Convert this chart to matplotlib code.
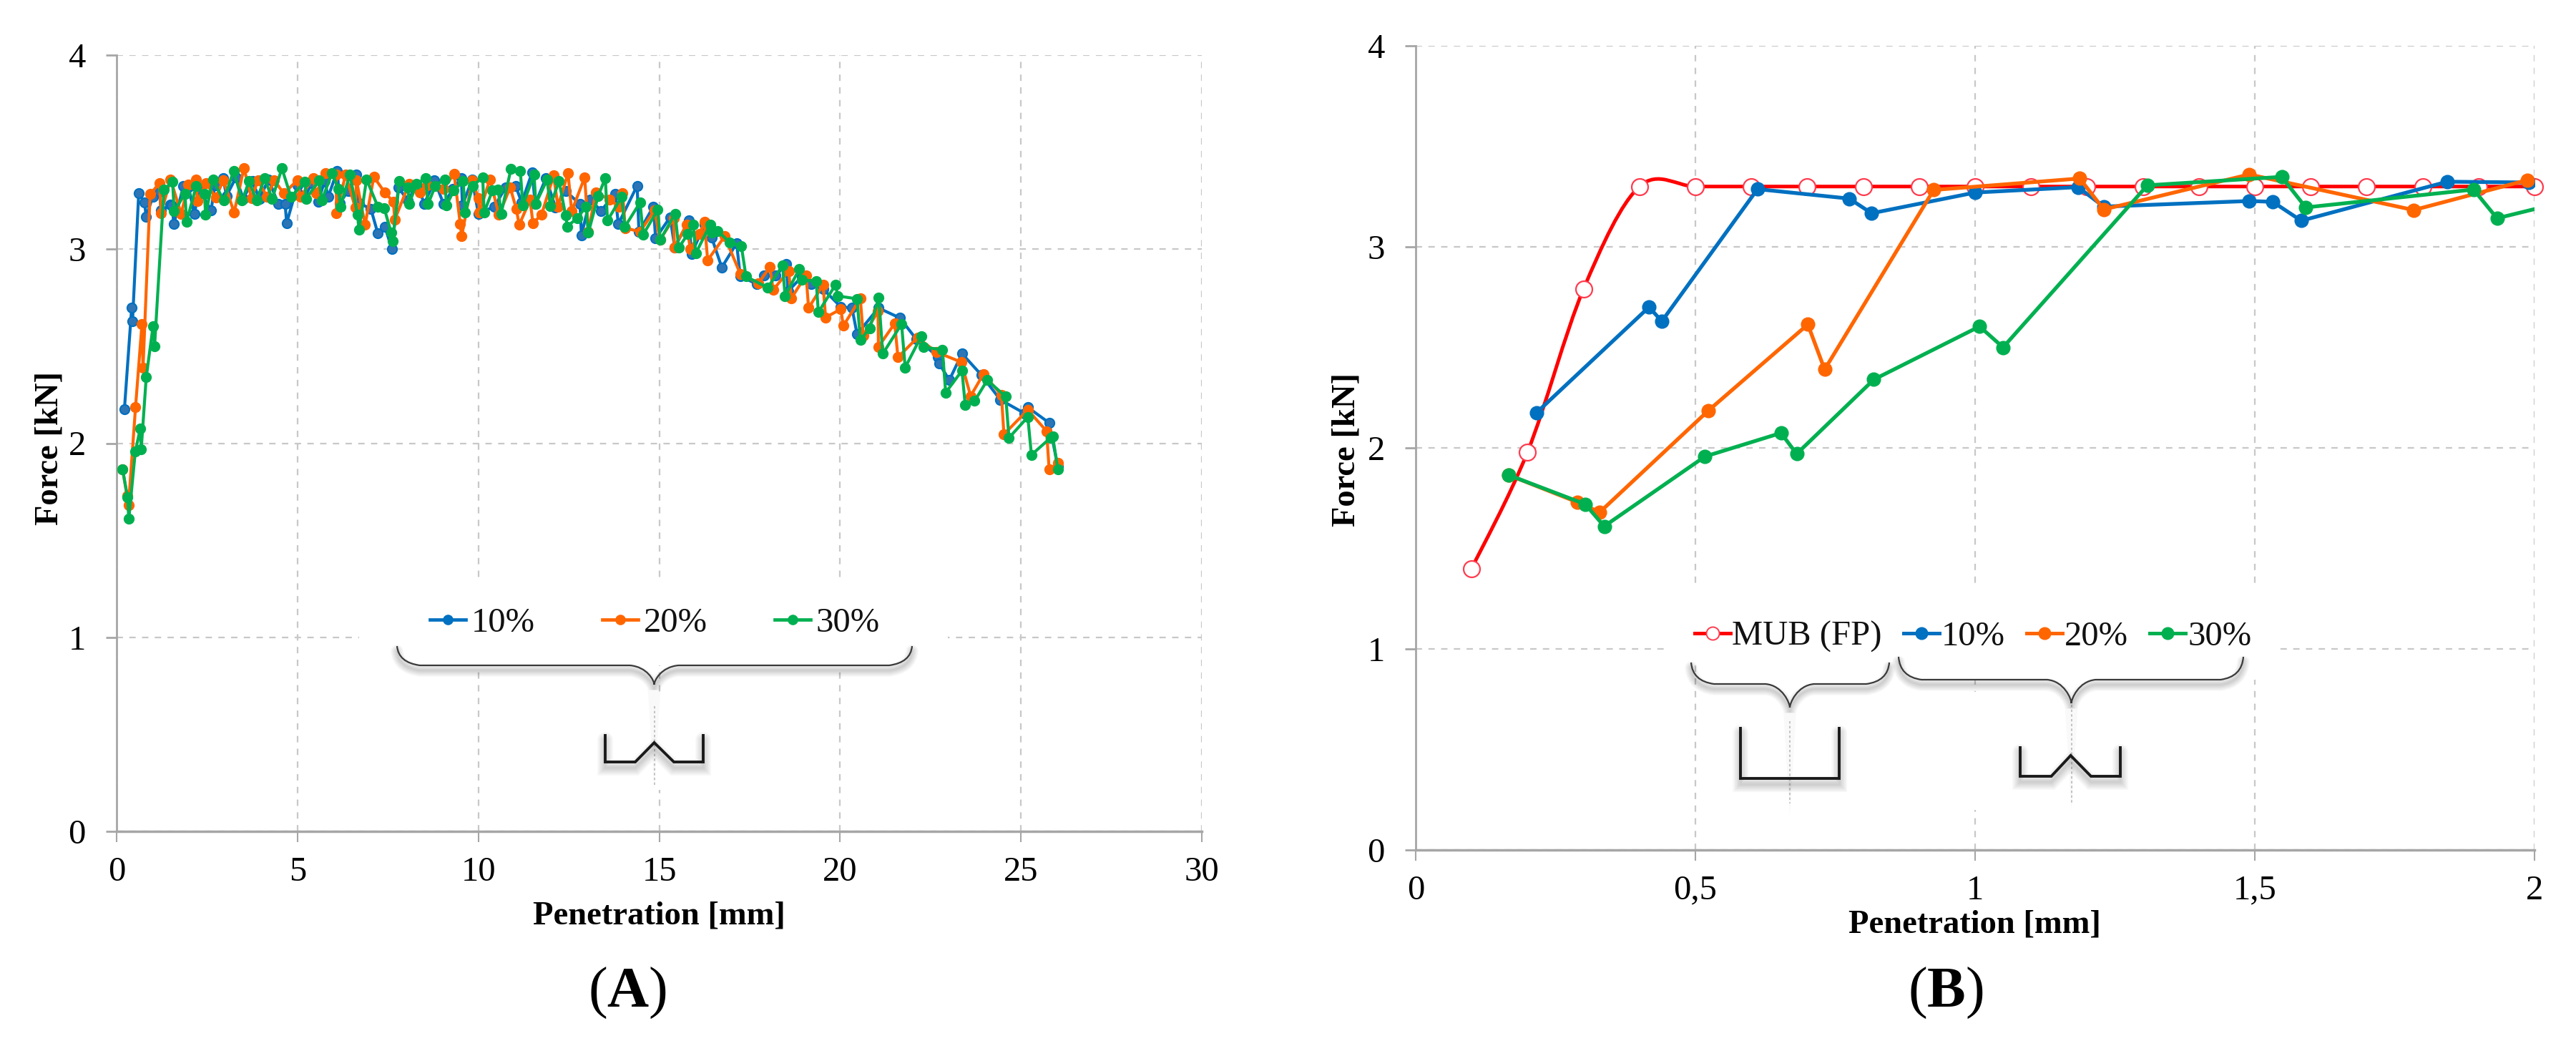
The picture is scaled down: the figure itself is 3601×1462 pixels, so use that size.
# -*- coding: utf-8 -*-
import matplotlib
matplotlib.use('Agg')
import matplotlib.pyplot as plt
from matplotlib.lines import Line2D
from matplotlib.patches import PathPatch, Rectangle
from matplotlib.path import Path

plt.rcParams['font.family'] = ['Liberation Serif', 'DejaVu Serif']
plt.rcParams['mathtext.fontset'] = 'custom'
plt.rcParams['mathtext.rm'] = 'Liberation Serif'
plt.rcParams['mathtext.bf'] = 'Liberation Serif:bold'

col_blue = '#0070C0'; col_orange = '#FF6600'
col_green = '#00B050'; col_red = '#FF0000'
col_grid = '#C8C8C8'; col_axis = '#A6A6A6'

#%% data, same tests in both panels (B is the zoom of the first 2 mm)

blue_x = [0.216, 0.417, 0.44, 0.611, 0.775, 0.815, 1.0, 1.184, 1.23, 1.49, 1.532, 1.583, 1.844, 1.99,
          2.15, 2.28, 2.61, 2.72, 2.94, 3.04, 3.3, 3.5, 3.75, 3.95, 4.2, 4.47, 4.66, 4.70, 5.0, 5.2,
          5.4, 5.57, 5.75, 5.85, 6.1, 6.17, 6.4, 6.63, 6.7, 7.03, 7.22, 7.42, 7.61, 7.79, 8.05, 8.3,
          8.51, 8.79, 9.04, 9.3, 9.53, 9.56, 9.83, 10.0, 10.45, 10.75, 11.03, 11.2, 11.49, 11.57,
          11.87, 12.13, 12.41, 12.81, 12.85, 13.09, 13.39, 13.78, 13.87, 14.39, 14.44, 14.84, 14.9,
          15.3, 15.43, 15.83, 15.89, 16.25, 16.45, 16.73, 17.14, 17.24, 17.7, 17.9, 18.22, 18.51,
          18.56, 18.94, 19.2, 19.53, 20.02, 20.33, 20.47, 21.06, 21.65, 22.1, 22.71, 22.74, 23.02,
          23.37, 23.9, 24.43, 25.1, 25.19, 25.78, 26.02]
blue_y = [2.175, 2.70, 2.63, 3.287, 3.24, 3.167, 3.27, 3.297, 3.20, 3.228, 3.224, 3.13, 3.324, 3.32,
          3.18, 3.31, 3.2, 3.33, 3.367, 3.275, 3.37, 3.26, 3.35, 3.26, 3.36, 3.232, 3.232, 3.134, 3.33, 3.27,
          3.34, 3.244, 3.35, 3.27, 3.404, 3.238, 3.3, 3.383, 3.238, 3.207, 3.082, 3.115, 3.0, 3.318, 3.25, 3.33,
          3.235, 3.355, 3.232, 3.31, 3.367, 3.226, 3.36, 3.183, 3.22, 3.318, 3.326, 3.24, 3.397, 3.232,
          3.367, 3.216, 3.3, 3.232, 3.072, 3.256, 3.198, 3.284, 3.13, 3.327, 3.088, 3.22, 3.056,
          3.164, 3.01, 3.15, 2.974, 3.127, 3.06, 2.906, 3.03, 2.861, 2.82, 2.863, 2.863, 2.924,
          2.783, 2.857, 2.82, 2.795, 2.703, 2.697, 2.562, 2.697, 2.646, 2.538, 2.446, 2.411, 2.325,
          2.462, 2.353, 2.224, 2.154, 2.185, 2.105, 1.88]

orange_x = [0.166, 0.289, 0.329, 0.523, 0.701, 0.731, 0.926, 1.187, 1.23, 1.49, 1.784, 1.987, 2.2, 2.23,
            2.48, 2.74, 2.95, 3.25, 3.52, 3.73, 3.91, 4.16, 4.36, 4.62, 5.0, 5.08, 5.44, 5.51, 5.77,
            6.07, 6.08, 6.33, 6.6, 6.63, 6.87, 7.11, 7.41, 7.65, 7.69, 8.08, 8.38, 8.58, 9.04, 9.33,
            9.5, 9.54, 9.83, 10.0, 10.03, 10.32, 10.57, 10.88, 11.05, 11.13, 11.43, 11.51, 11.75, 12.08,
            12.2, 12.48, 12.58, 12.94, 13.04, 13.25, 13.62, 13.88, 13.99, 14.06, 14.47, 14.87, 15.02,
            15.4, 15.42, 15.76, 15.86, 16.12, 16.25, 16.34, 16.81, 17.24, 17.74, 18.06, 18.15, 18.58,
            18.65, 19.06, 19.13, 19.53, 19.6, 20.02, 20.09, 20.56, 20.64, 21.05, 21.06, 21.51, 21.6,
            22.14, 22.66, 23.35, 23.61, 23.96, 24.46, 24.53, 25.19, 25.71, 25.78, 26.02]
orange_y = [1.865, 1.73, 1.68, 2.185, 2.614, 2.39, 3.283, 3.34, 3.186, 3.36, 3.183, 3.332, 3.36, 3.247,
            3.339, 3.265, 3.355, 3.189, 3.418, 3.263, 3.355, 3.269, 3.355, 3.287, 3.355, 3.269, 3.367, 3.287, 3.39,
            3.385, 3.186, 3.385, 3.213, 3.355, 3.125, 3.373, 3.293, 3.244, 3.152, 3.336, 3.293, 3.33, 3.312, 3.388,
            3.13, 3.066, 3.355, 3.263, 3.189, 3.36, 3.177, 3.318, 3.207, 3.125, 3.254, 3.133, 3.179, 3.379,
            3.22, 3.391, 3.195, 3.37, 3.09, 3.293, 3.256, 3.22, 3.287, 3.109, 3.09, 3.2, 3.048,
            3.158, 3.01, 3.127, 3.0, 3.08, 3.14, 2.943, 3.066, 2.873, 2.824, 2.908, 2.79, 2.888,
            2.746, 2.866, 2.697, 2.816, 2.648, 2.691, 2.605, 2.746, 2.556, 2.679, 2.497, 2.617, 2.443,
            2.544, 2.47, 2.418, 2.243, 2.356, 2.249, 2.046, 2.172, 2.062, 1.865, 1.897]

green_x = [0.166, 0.303, 0.337, 0.517, 0.653, 0.681, 0.819, 1.008, 1.05, 1.308, 1.548, 1.591, 1.891, 1.933,
           2.2, 2.43, 2.46, 2.66, 2.96, 3.235, 3.47, 3.66, 3.87, 4.09, 4.3, 4.57, 4.82, 5.21, 5.24, 5.6,
           5.67, 5.95, 6.14, 6.19, 6.45, 6.66, 6.7, 6.91, 7.22, 7.4, 7.59, 7.63, 7.82, 8.05, 8.09, 8.29,
           8.54, 8.61, 8.81, 9.07, 9.12, 9.32, 9.58, 9.64, 9.85, 10.12, 10.16, 10.39, 10.55, 10.63, 10.9,
           11.16, 11.23, 11.54, 11.59, 11.9, 11.99, 12.23, 12.41, 12.46, 12.73, 12.98, 13.04, 13.31,
           13.51, 13.57, 13.96, 14.05, 14.47, 14.56, 14.96, 15.03, 15.44, 15.54, 15.79, 15.94, 16.01,
           16.41, 16.45, 16.62, 16.95, 17.27, 17.4, 18.0, 18.41, 18.48, 18.87, 18.94, 19.34, 19.4,
           19.88, 19.93, 20.47, 20.56, 20.82, 21.07, 21.18, 21.7, 21.8, 22.24, 22.31, 22.83, 22.92,
           23.37, 23.46, 23.72, 24.07, 24.58, 24.67, 25.19, 25.29, 25.82, 25.88, 26.02]
green_y = [1.865, 1.72, 1.61, 1.957, 2.074, 1.97, 2.34, 2.604, 2.50, 3.306, 3.348, 3.196, 3.285, 3.142,
           3.324, 3.285, 3.177, 3.36, 3.25, 3.404, 3.25, 3.35, 3.25, 3.365, 3.26, 3.416, 3.269, 3.349, 3.26, 3.355,
           3.25, 3.39, 3.312, 3.22, 3.385, 3.177, 3.1, 3.36, 3.22, 3.21, 3.085, 3.04, 3.35, 3.318, 3.235, 3.336,
           3.365, 3.232, 3.326, 3.36, 3.226, 3.302, 3.351, 3.189, 3.326, 3.371, 3.189, 3.302, 3.306, 3.183, 3.412,
           3.404, 3.226, 3.385, 3.235, 3.358, 3.223, 3.351, 3.176, 3.117, 3.16, 3.219, 3.084, 3.272,
           3.367, 3.148, 3.269, 3.115, 3.24, 3.076, 3.203, 3.048, 3.183, 3.007, 3.078, 3.127, 2.978,
           3.127, 3.084, 3.093, 3.035, 3.017, 2.859, 2.802, 2.916, 2.759, 2.896, 2.842, 2.835, 2.675,
           2.818, 2.759, 2.744, 2.531, 2.593, 2.749, 2.461, 2.614, 2.39, 2.55, 2.495, 2.482, 2.261,
           2.374, 2.196, 2.218, 2.325, 2.24, 2.028, 2.135, 1.94, 2.028, 2.034, 1.865]

mub_x = [0.1, 0.2, 0.3, 0.4, 0.5, 0.6, 0.7, 0.8, 0.9, 1.0, 1.1, 1.2, 1.3, 1.4, 1.5, 1.6, 1.7, 1.8, 1.9, 2.0]
mub_y = [1.4, 1.98, 2.79, 3.3, 3.3, 3.3, 3.3, 3.3, 3.3, 3.3, 3.3, 3.3, 3.3, 3.3, 3.3, 3.3, 3.3, 3.3, 3.3, 3.3]

xticks_a = [0, 5, 10, 15, 20, 25, 30]
xticks_b = [0, 0.5, 1, 1.5, 2]
xlabels_b = ['0', '0,5', '1', '1,5', '2']
yticks = [0, 1, 2, 3, 4]

W, H = 3601, 1462
fig = plt.figure(figsize=(W/100, H/100), dpi=100, facecolor='white')


def axes_px(left, right, top, bottom):
    return fig.add_axes([left/W, 1-bottom/H, (right-left)/W, (bottom-top)/H])


def style(ax, xticks, xlabels, xmax, xlabel_px, label_y_px, ylab_px, box):
    left, right, top, bottom = box
    ax.set_xlim(0, xmax)
    ax.set_ylim(0, 4)
    ax.set_xticks(xticks)
    ax.set_xticklabels(xlabels)
    ax.set_yticks(yticks)
    ax.grid(True, color=col_grid, lw=1.6, dashes=(4, 4), zorder=0)
    ax.set_axisbelow(True)
    for s in ['top', 'right']:
        ax.spines[s].set_visible(False)
    ax.spines['left'].set_color(col_axis)
    ax.spines['left'].set_linewidth(2)
    ax.spines['bottom'].set_color(col_axis)
    ax.spines['bottom'].set_linewidth(2.5)
    ax.tick_params(axis='x', length=11, width=1.5, color=col_axis, labelsize=35, pad=14)
    ax.tick_params(axis='y', length=11, width=2, color=col_axis, labelsize=35, pad=20)
    ax.set_xlabel('Penetration [mm]', fontsize=33.5, fontweight='bold', va='center')
    ax.xaxis.set_label_coords((xlabel_px-left)/(right-left), (bottom-label_y_px)/(bottom-top))
    ax.set_ylabel('Force [kN]', fontsize=33.5, fontweight='bold', va='center')
    ax.yaxis.set_label_coords((ylab_px[0]-left)/(right-left), (bottom-ylab_px[1])/(bottom-top))


def series(ax, x, y, color, face, ms, lw):
    line, = ax.plot(x, y, color=color, lw=lw, marker='o', ms=ms, mfc=face, mec=color, mew=1.5, zorder=3,
                    solid_joinstyle='round')
    return line


def smooth_path(x, y):
    # same kind of smoothing as the spreadsheet line
    verts = [(x[0], y[0])]
    codes = [Path.MOVETO]
    n = len(x)
    for i in range(n-1):
        i0 = max(i-1, 0); i3 = min(i+2, n-1)
        verts.append((x[i]+(x[i+1]-x[i0])/6, y[i]+(y[i+1]-y[i0])/6))
        verts.append((x[i+1]-(x[i3]-x[i])/6, y[i+1]-(y[i3]-y[i])/6))
        verts.append((x[i+1], y[i+1]))
        codes += [Path.CURVE4]*3
    return Path(verts, codes)


#%% panel A

box_a = (163, 1680, 77, 1162)
ax_a = axes_px(*box_a)
style(ax_a, xticks_a, [str(t) for t in xticks_a], 30, 921, 1280, (70, 626), box_a)
la1 = series(ax_a, blue_x, blue_y, col_blue, '#2E75B6', 9.5, 3)
la2 = series(ax_a, orange_x, orange_y, col_orange, col_orange, 9.5, 3)
la3 = series(ax_a, green_x, green_y, col_green, col_green, 9.5, 3)

#%% panel B

box_b = (1979, 3543, 64, 1188)
ax_b = axes_px(*box_b)
style(ax_b, xticks_b, xlabels_b, 2, 2760, 1293, (1883, 628), box_b)
ax_b.add_patch(PathPatch(smooth_path(mub_x, mub_y), fill=False, ec=col_red, lw=3.6, zorder=2.5))
ax_b.plot(mub_x, mub_y, ls='none', marker='o', ms=16.5, mfc='white', mec='#FF3B4E', mew=1.6,
          zorder=2.6, clip_on=False)
lb1 = series(ax_b, blue_x, blue_y, col_blue, col_blue, 13, 3.8)
lb2 = series(ax_b, orange_x, orange_y, col_orange, col_orange, 13, 3.8)
lb3 = series(ax_b, green_x, green_y, col_green, col_green, 13, 3.8)

#%% overlay in pixels: white boxes, braces and the section sketches

ov = fig.add_axes([0, 0, 1, 1], zorder=3)
ov.set_xlim(0, W)
ov.set_ylim(H, 0)
ov.axis('off')
ov.patch.set_alpha(0)


def white(x0, x1, y0, y1):
    ov.add_patch(Rectangle((x0, y0), x1-x0, y1-y0, fc='white', ec='none', zorder=1))


def shadow(path, dy, lw):
    # soft drop shadow, stacked wide strokes
    for k in [1, 2, 3, 4, 5, 6, 7, 8]:
        p = Path(path.vertices+[0, dy], path.codes)
        ov.add_patch(PathPatch(p, fill=False, ec='black', alpha=0.022, lw=lw*k, zorder=2, capstyle='round'))


def brace(x0, x1, xm, y_top, y_line, y_tip):
    r = 32
    rm = 34
    v = [(x0, y_top), (x0+2, y_line-4), (x0+r, y_line),
         (xm-rm, y_line), (xm-10, y_line+2), (xm, y_tip-6), (xm, y_tip),
         (xm, y_tip-6), (xm+10, y_line+2), (xm+rm, y_line),
         (x1-r, y_line), (x1-2, y_line-4), (x1, y_top)]
    c = [Path.MOVETO, Path.CURVE3, Path.CURVE3,
         Path.LINETO, Path.CURVE4, Path.CURVE4, Path.CURVE4,
         Path.CURVE4, Path.CURVE4, Path.CURVE4,
         Path.LINETO, Path.CURVE3, Path.CURVE3]
    p = Path(v, c)
    shadow(p, 7, 1.6)
    ov.add_patch(PathPatch(p, fill=False, ec='#3A3A3A', lw=1.6, zorder=3))


def sketch(xs, ys):
    p = Path(list(zip(xs, ys)))
    shadow(p, 8, 2.0)
    ov.add_patch(PathPatch(p, fill=False, ec='#1A1A1A', lw=2.8, zorder=3, joinstyle='miter'))


def centre_line(x, y0, y1):
    ov.plot([x, x], [y0, y1], color='#BDBDBD', lw=1.2, dashes=(2, 2), zorder=1.5)


# panel A
white(502, 1325, 815, 930)
white(830, 1000, 973, 1104)
centre_line(914.5, 987, 1098)
brace(555, 1275, 914.5, 903, 930, 957)
sketch([846, 846, 888, 914.5, 942, 983, 983], [1026, 1065, 1065, 1038, 1065, 1065, 1026])

# panel B
white(2334, 3180, 815, 925)
white(2650, 3180, 925, 950)
white(2700, 2800, 967, 1132)
centre_line(2502, 1008, 1123)
centre_line(2895.6, 985, 1123)
brace(2364, 2641, 2502, 926, 956, 989)
brace(2654, 3136, 2895.6, 918, 950, 983)
sketch([2432.5, 2432.5, 2571, 2571], [1016, 1088, 1088, 1016])
sketch([2824, 2824, 2867.5, 2894.6, 2923, 2964, 2964], [1043, 1085, 1085, 1056, 1085, 1085, 1043])

#%% legends

h_mub = Line2D([], [], color=col_red, lw=3.6, marker='o', ms=13, mfc='white', mec='#FF3B4E', mew=1.4)
leg_a = fig.legend(handles=[Line2D([], [], color=l.get_color(), lw=3.4, marker='o', ms=9.5) for l in (la1, la2, la3)],
                   labels=['10%', '20%', '30%'], ncol=3, loc='center', frameon=False, fontsize=35,
                   bbox_to_anchor=(915.5/W, 1-871/H), borderpad=0, borderaxespad=0,
                   handlelength=1.03, handletextpad=0.16, columnspacing=1.93, labelcolor='#111111')
leg_a.set_zorder(5)
leg_b = fig.legend(handles=[h_mub]+[Line2D([], [], color=l.get_color(), lw=3.6, marker='o', ms=12) for l in (lb1, lb2, lb3)],
                   labels=['MUB (FP)', '10%', '20%', '30%'], ncol=4, loc='center', frameon=False, fontsize=35,
                   bbox_to_anchor=(2758/W, 1-890/H), borderpad=0, borderaxespad=0,
                   handlelength=1.03, handletextpad=0.06, columnspacing=0.62, labelcolor='#111111')
leg_b.set_zorder(5)

#%% panel letters

fig.text(877/W, 1-1388/H, r'($\mathbf{A}$)', fontsize=58, ha='center', va='center')
fig.text(2720/W, 1-1388/H, r'($\mathbf{B}$)', fontsize=58, ha='center', va='center')

fig.savefig('out.png', dpi=100, facecolor='white')
